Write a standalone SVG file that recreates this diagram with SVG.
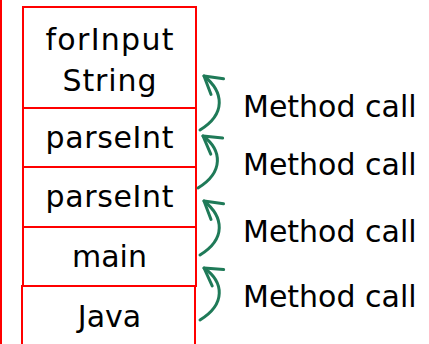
<svg xmlns="http://www.w3.org/2000/svg" width="429" height="344" viewBox="0 0 429 344">
  <style>
    .frame { fill: #ffffff; stroke: #ff0000; stroke-width: 2; }
    .name { font-family: "DejaVu Sans", "Liberation Sans", sans-serif; font-size: 30px; fill: #000000; text-anchor: middle; }
    .call { fill: none; stroke: #1f7a58; stroke-width: 3; stroke-linecap: round; marker-end: url(#head); }
    .label { font-family: "DejaVu Sans", "Liberation Sans", sans-serif; font-size: 30px; fill: #000000; }
  </style>
  <defs>
    <marker id="head" markerUnits="userSpaceOnUse" markerWidth="30" markerHeight="30" viewBox="-20 -15 30 30" refX="0" refY="0" orient="auto">
      <path d="M-17,-10 L0,0 L-17,10" fill="none" stroke="#1f7a58" stroke-width="3" stroke-linecap="round" stroke-linejoin="round"/>
    </marker>
  </defs>
  <rect width="429" height="344" fill="#ffffff"/>

  <!-- stack boundary -->
  <line x1="1" y1="0" x2="1" y2="344" stroke="#ff0000" stroke-width="2"/>

  <g id="frame-forInputString">
    <rect class="frame" x="23" y="7" width="173" height="101"/>
    <text class="name" x="109.5" y="50" textLength="128" lengthAdjust="spacing">forInput</text>
    <text class="name" x="109.5" y="91" textLength="94" lengthAdjust="spacing">String</text>
  </g>
  <g id="frame-parseInt-2">
    <rect class="frame" x="23" y="108" width="173" height="59"/>
    <text class="name" x="109.5" y="148" textLength="128" lengthAdjust="spacing">parseInt</text>
  </g>
  <g id="frame-parseInt-1">
    <rect class="frame" x="23" y="167" width="173" height="60"/>
    <text class="name" x="109.5" y="207" textLength="128" lengthAdjust="spacing">parseInt</text>
  </g>
  <g id="frame-main">
    <rect class="frame" x="23" y="227" width="173" height="59"/>
    <text class="name" x="109.5" y="267">main</text>
  </g>
  <g id="frame-Java">
    <rect class="frame" x="22" y="286" width="173" height="70"/>
    <text class="name" x="109.5" y="327">Java</text>
  </g>

  <g id="connectors">
    <path class="call" d="M200,130 C226,114 224,92 204,76"/>
    <path class="call" d="M198,188 C224,172 222,150 203,136"/>
    <path class="call" d="M200,255 C226,239 224,217 204,201"/>
    <path class="call" d="M200,320 C226,304 224,282 204,268"/>
    <text class="label" x="243" y="117">Method call</text>
    <text class="label" x="243" y="175">Method call</text>
    <text class="label" x="243" y="242">Method call</text>
    <text class="label" x="243" y="307">Method call</text>
  </g>
</svg>
